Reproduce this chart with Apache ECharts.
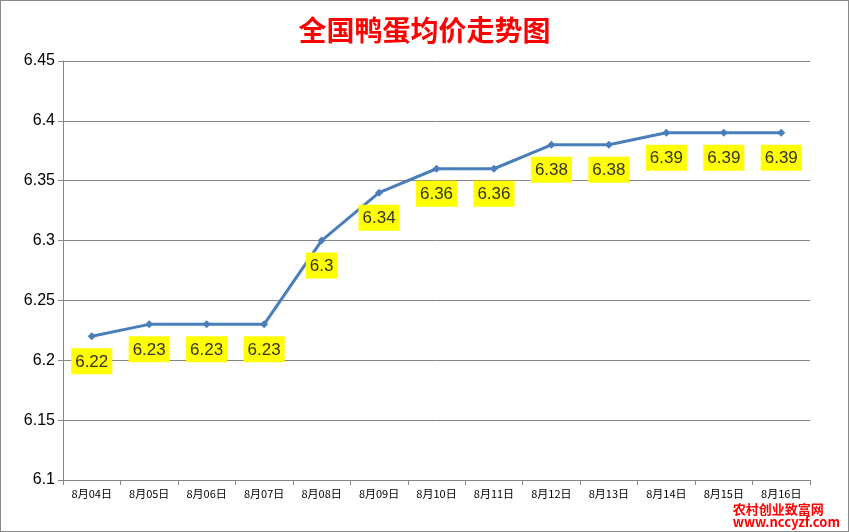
<!DOCTYPE html>
<html><head><meta charset="utf-8">
<script src="https://cdn.jsdelivr.net/npm/echarts@6/dist/echarts.min.js"></script>
<style>html,body{margin:0;padding:0;background:#fff}#c{width:849px;height:532px;box-sizing:border-box;border:1px solid #888}</style>
</head><body><div id="c"></div>
<script>
const categories=["8月04日","8月05日","8月06日","8月07日","8月08日","8月09日","8月10日","8月11日","8月12日","8月13日","8月14日","8月15日","8月16日"];
const values=[6.22,6.23,6.23,6.23,6.3,6.34,6.36,6.36,6.38,6.38,6.39,6.39,6.39];
const chart=echarts.init(document.getElementById('c'));
chart.setOption({
  animation:false,
  title:{text:"全国鸭蛋均价走势图",left:'center',top:10,textStyle:{color:'#ff0000',fontSize:28,fontWeight:'bold',fontFamily:'Noto Sans CJK SC'}},
  grid:{left:62,right:38,top:60,bottom:51},
  xAxis:{type:'category',data:categories,boundaryGap:true,
    axisLine:{lineStyle:{color:'#868686'}},axisTick:{show:true,lineStyle:{color:'#868686'}},
    axisLabel:{color:'#000',fontSize:11,interval:0,fontFamily:'Noto Sans CJK SC'}},
  yAxis:{type:'value',min:6.1,max:6.45,interval:0.05,
    axisLine:{show:true,lineStyle:{color:'#868686'}},axisTick:{show:true,lineStyle:{color:'#868686'}},
    splitLine:{lineStyle:{color:'#868686'}},
    axisLabel:{color:'#000',fontSize:16,fontFamily:'Liberation Sans',formatter:v=>String(+v.toFixed(2))}},
  series:[{type:'line',data:values,symbol:'diamond',symbolSize:8,
    lineStyle:{color:'#4a7ebb',width:3},itemStyle:{color:'#4a7ebb'},
    label:{show:true,position:'bottom',distance:8,backgroundColor:'#ffff00',color:'#333',fontSize:17,padding:[5,4,4,4],fontFamily:'Liberation Sans',formatter:p=>String(p.value)}}],
  graphic:[{type:'text',right:8,bottom:2,style:{text:'农村创业致富网\nwww.nccyzf.com',fill:'#ff0000',font:'bold 13px "Noto Sans CJK SC"',align:'center'}}]
});
</script></body></html>
